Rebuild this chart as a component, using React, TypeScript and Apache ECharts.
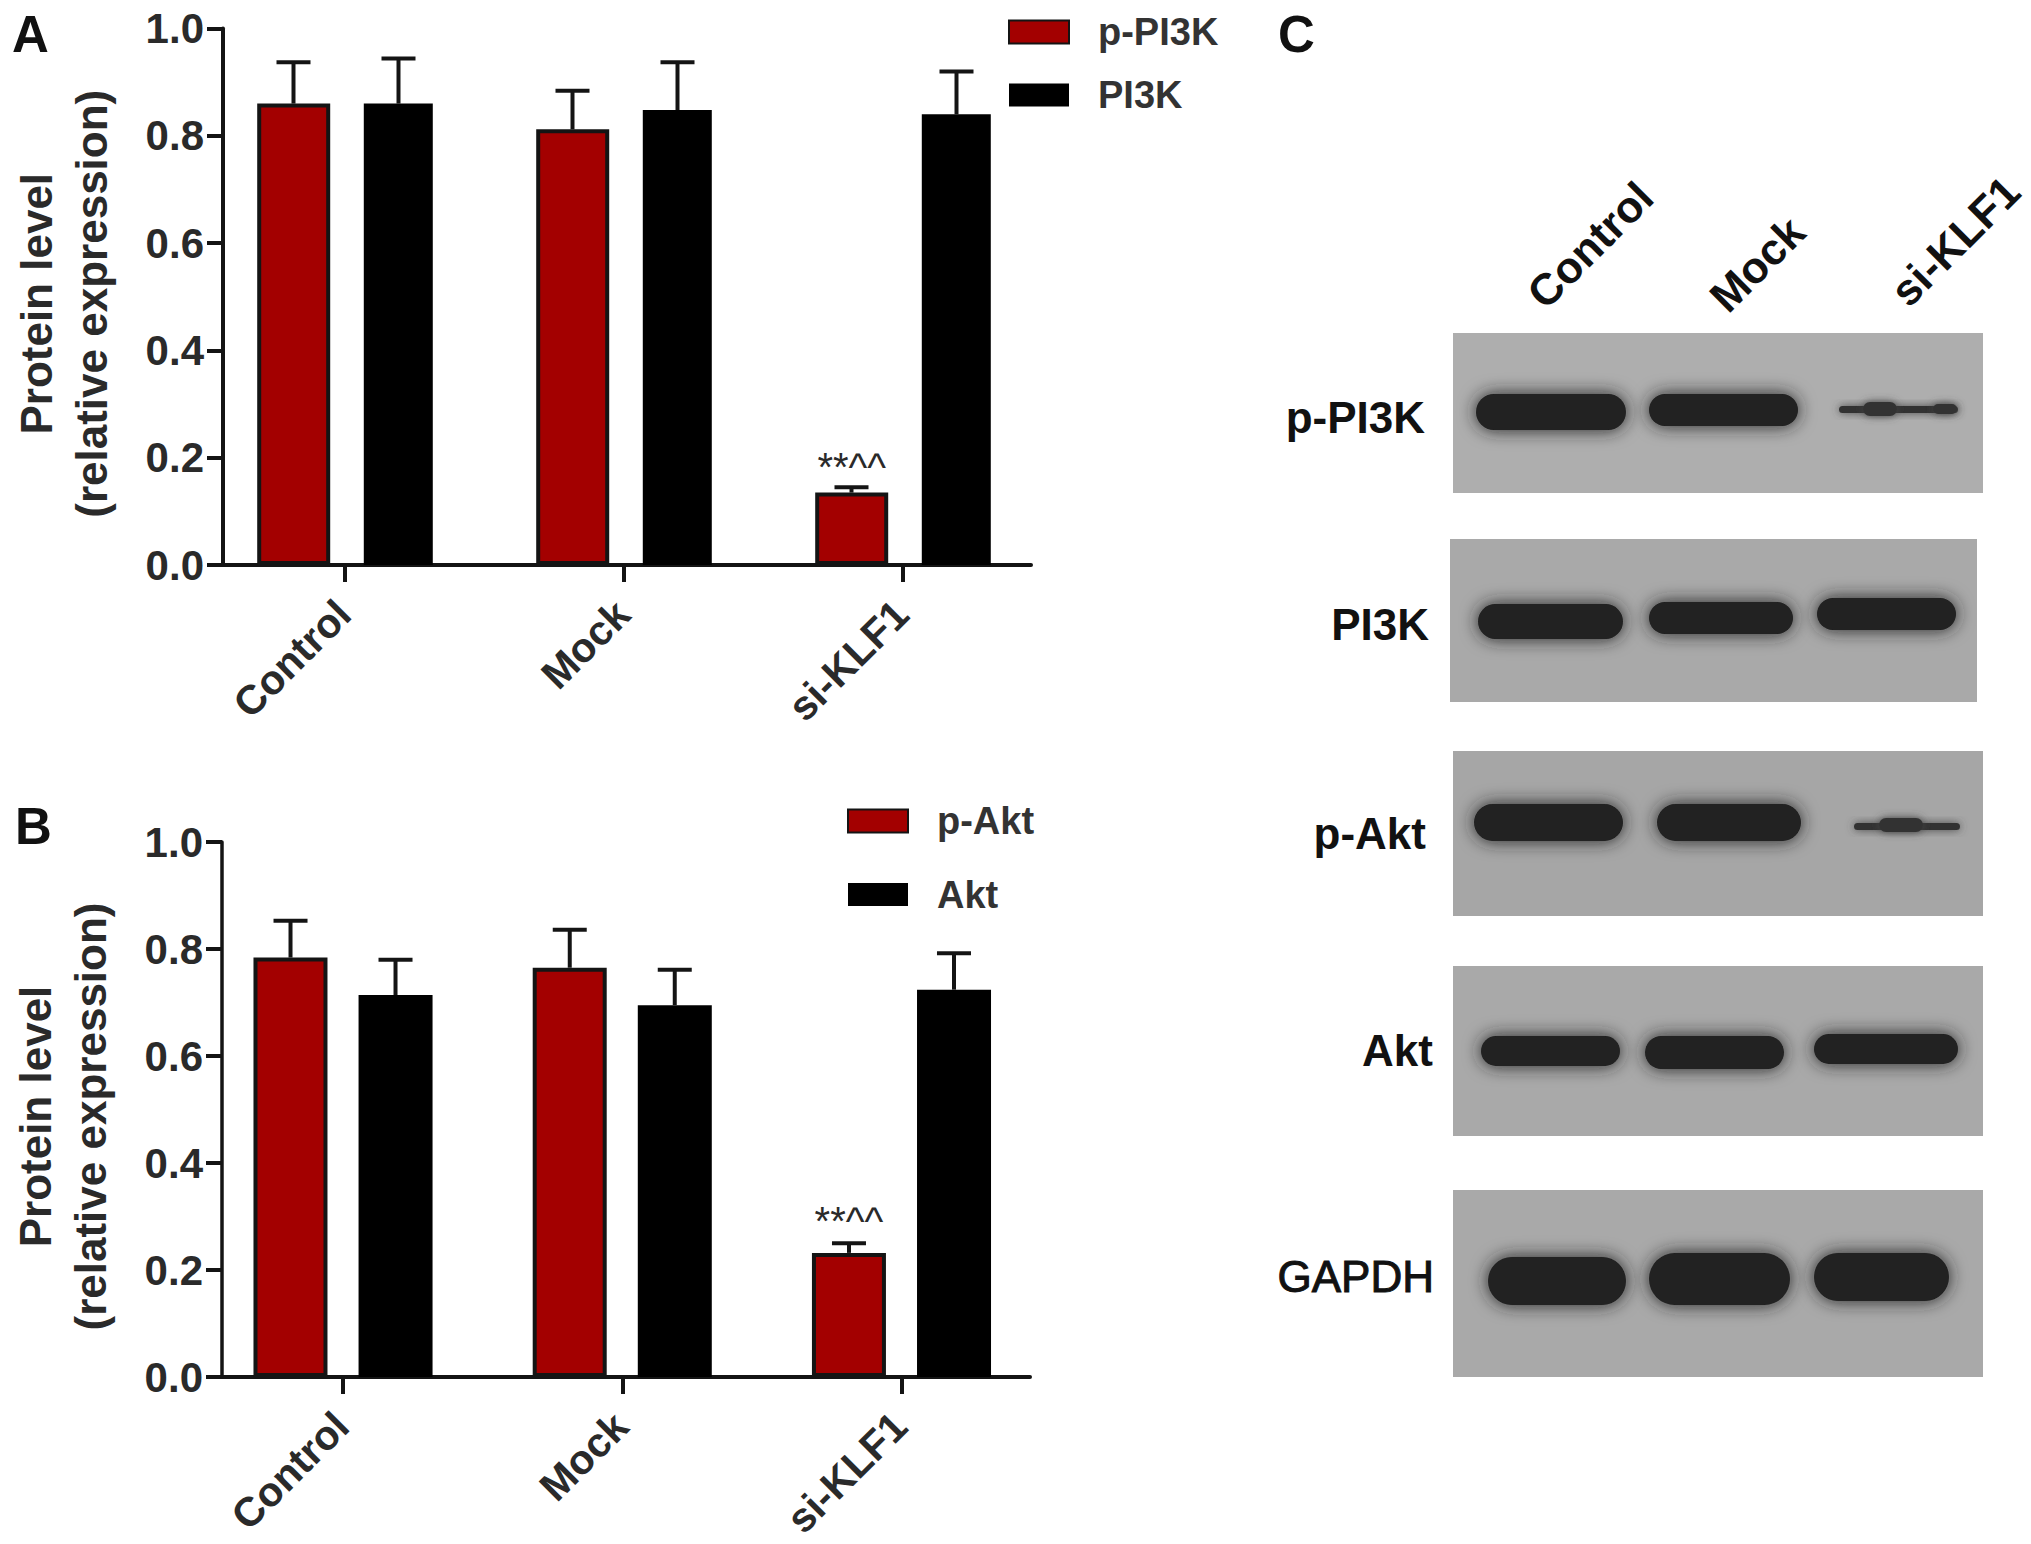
import React, { useEffect, useRef } from "react";
import * as echarts from "echarts";

const categories = ["Control", "Mock", "si-KLF1"];
const yTicksFont = "Liberation Sans";

const pPI3K = [0.86, 0.812, 0.135];
const pPI3KTop = [0.937, 0.884, 0.145];
const PI3K = [0.86, 0.848, 0.84];
const PI3KTop = [0.944, 0.937, 0.92];

const pAkt = [0.784, 0.765, 0.232];
const pAktTop = [0.853, 0.836, 0.25];
const Akt = [0.714, 0.695, 0.724];
const AktTop = [0.78, 0.761, 0.792];

const significance = "**^^";
const yName = "Protein level\n(relative expression)";

const RED = "#a30000";
const INK = "#141414";
const TEXT = "#2a2a2a";

// Panel C: western blot sketch
const blotLanes = ["Control", "Mock", "si-KLF1"];
const blotProteins = ["p-PI3K", "PI3K", "p-Akt", "Akt", "GAPDH"];

const blotLayout = [
  { box: [1453, 333, 530, 160], fill: "#aeaeae", label: [1425, 417], weight: "bold",
    bands: [[1475, 393, 152, 38], [1648, 393, 151, 34], [1838, 405, 121, 9], [1862, 401, 36, 16], [1932, 403, 26, 12]] },
  { box: [1450, 539, 527, 163], fill: "#a9a9a9", label: [1429, 624], weight: "bold",
    bands: [[1477, 603, 147, 37], [1648, 601, 146, 34], [1816, 597, 141, 34]] },
  { box: [1453, 751, 530, 165], fill: "#a6a6a6", label: [1426, 833], weight: "bold",
    bands: [[1473, 803, 151, 39], [1656, 803, 146, 39], [1853, 822, 108, 9], [1878, 817, 46, 16]] },
  { box: [1453, 966, 530, 170], fill: "#a9a9a9", label: [1433, 1050], weight: "bold",
    bands: [[1480, 1035, 141, 32], [1644, 1035, 141, 35], [1813, 1033, 146, 32]] },
  { box: [1453, 1190, 530, 187], fill: "#a9a9a9", label: [1434, 1276], weight: "normal",
    bands: [[1487, 1256, 140, 50], [1648, 1252, 143, 54], [1813, 1252, 137, 50]] },
];
const laneLabelPos = [[1590, 245], [1757, 264], [1955, 241]];
const panelLetters = [["A", 12, 34], ["B", 15, 826], ["C", 1278, 34]];

function blotGraphics(): any[] {
  const out: any[] = [];
  blotLayout.forEach((p, i) => {
    const [x, y, w, h] = p.box;
    out.push({ type: "rect", shape: { x, y, width: w, height: h }, style: { fill: p.fill } });
    p.bands.forEach(([bx, by, bw, bh]) => {
      const thin = bh < 20;
      const inset = 1;
      out.push({
        type: "rect",
        shape: { x: bx + inset, y: by + inset, width: bw - 2 * inset, height: bh - 2 * inset, r: (bh - 2 * inset) / 2 },
        style: { fill: thin ? "#333" : "#202020", shadowBlur: thin ? 8 : 18, shadowColor: thin ? "#444" : "#202020" },
      });
    });
    out.push({
      type: "text", x: p.label[0], y: p.label[1],
      style: {
        text: blotProteins[i], align: "right", verticalAlign: "middle", fill: "#111",
        font: `${p.weight} 44px "Liberation Sans"`,
        stroke: p.weight === "normal" ? "#111" : undefined, lineWidth: p.weight === "normal" ? 1 : 0,
      },
    });
  });
  blotLanes.forEach((t, i) => {
    out.push({
      type: "text", x: laneLabelPos[i][0], y: laneLabelPos[i][1], rotation: Math.PI / 4,
      style: { text: t, align: "center", verticalAlign: "middle", fill: "#111", font: `bold 44px "Liberation Sans"` },
    });
  });
  panelLetters.forEach(([t, x, y]) => {
    out.push({
      type: "text", x, y,
      style: { text: t, align: "left", verticalAlign: "middle", fill: "#111", font: `bold 51px "Liberation Sans"` },
    });
  });
  return out;
}

type Panel = {
  top: number; bottom: number; axisX: number; axisEnd: number; bandLeft: number; bandWidth: number;
  names: [string, string]; red: number[]; redTop: number[]; black: number[]; blackTop: number[];
  redW: number; blackW: number; gap: string; redOffset: number; blackOffset: number;
  legendLeft: number; legendTop: number; legendGap: number; sigDistance: number;
};

const panels: Panel[] = [
  { top: 28.5, bottom: 565, axisX: 223, axisEnd: 1031, bandLeft: 205.5, bandWidth: 837,
    names: ["p-PI3K", "PI3K"], red: pPI3K, redTop: pPI3KTop, black: PI3K, blackTop: PI3KTop,
    redW: 73, blackW: 69, gap: "46%", redOffset: -51.5, blackOffset: 53.5,
    legendLeft: 1008, legendTop: 13, legendGap: 25, sigDistance: 6 },
  { top: 842, bottom: 1377, axisX: 222, axisEnd: 1030, bandLeft: 203.4, bandWidth: 837.7,
    names: ["p-Akt", "Akt"], red: pAkt, redTop: pAktTop, black: Akt, blackTop: AktTop,
    redW: 74, blackW: 74, gap: "42%", redOffset: -52.5, blackOffset: 52.5,
    legendLeft: 847, legendTop: 802, legendGap: 35.5, sigDistance: 12 },
];

function errorSeries(name: string, tops: number[], vals: number[], offset: number, grid: number) {
  return {
    type: "custom", name, xAxisIndex: grid, yAxisIndex: grid, silent: true, z: 3,
    encode: { x: 0, y: [1, 2] },
    data: tops.map((t, i) => [i, vals[i], t]),
    renderItem: (_p: any, api: any) => {
      const a = api.coord([api.value(0), api.value(1)]);
      const b = api.coord([api.value(0), api.value(2)]);
      const x = a[0] + offset;
      const style = { stroke: INK, lineWidth: 4, fill: "none" };
      return {
        type: "group",
        children: [
          { type: "line", shape: { x1: x, y1: a[1], x2: x, y2: b[1] }, style },
          { type: "line", shape: { x1: x - 17, y1: b[1], x2: x + 17, y2: b[1] }, style },
        ],
      };
    },
  };
}

function buildOption() {
  const grid: any[] = [], xAxis: any[] = [], yAxis: any[] = [], series: any[] = [], legend: any[] = [];
  panels.forEach((p, k) => {
    const g = k * 2; // bars grid
    const f = g + 1; // frame grid
    grid.push({ left: p.bandLeft, width: p.bandWidth, top: p.top, height: p.bottom - p.top });
    grid.push({ left: p.axisX, width: p.axisEnd - p.axisX, top: p.top, height: p.bottom - p.top });
    xAxis.push({
      type: "category", gridIndex: g, data: categories,
      axisLine: { show: false },
      axisTick: { show: true, alignWithLabel: true, length: 17, lineStyle: { color: INK, width: 4 } },
      axisLabel: { rotate: 45, margin: 41, interval: 0, fontFamily: yTicksFont, fontWeight: "bold", fontSize: 41, color: TEXT, padding: [0, 2, 0, 0] },
    });
    xAxis.push({
      type: "category", gridIndex: f, data: categories,
      axisLine: { show: true, lineStyle: { color: INK, width: 4 } },
      axisTick: { show: false }, axisLabel: { show: false },
    });
    yAxis.push({ type: "value", gridIndex: g, min: 0, max: 1, show: false, splitLine: { show: false } });
    yAxis.push({
      type: "value", gridIndex: f, min: 0, max: 1, interval: 0.2,
      name: yName, nameLocation: "middle", nameGap: 104,
      nameTextStyle: { fontFamily: yTicksFont, fontWeight: "bold", fontSize: 44, color: TEXT, lineHeight: 55, padding: [0, 14, 0, 0] },
      axisLine: { show: true, lineStyle: { color: INK, width: k === 0 ? 4 : 3.5 } },
      axisTick: { show: true, length: 16, lineStyle: { color: INK, width: 4 } },
      axisLabel: { margin: 19, fontFamily: yTicksFont, fontWeight: "bold", fontSize: 42, color: TEXT, formatter: (v: number) => v.toFixed(1) },
      splitLine: { show: false },
    });
    series.push({
      type: "bar", name: p.names[0], xAxisIndex: g, yAxisIndex: g, barWidth: p.redW, barGap: p.gap,
      itemStyle: { color: RED, borderColor: INK, borderWidth: 4 },
      data: p.red.map((v, i) =>
        i === 2
          ? { value: v, label: { show: true, position: "top", distance: p.sigDistance, formatter: significance, fontFamily: yTicksFont, fontSize: 40, color: TEXT } }
          : v),
    });
    series.push({
      type: "bar", name: p.names[1], xAxisIndex: g, yAxisIndex: g, barWidth: p.blackW, barGap: p.gap,
      itemStyle: { color: "#000", borderColor: "#000", borderWidth: 0 },
      data: p.black,
    });
    series.push(errorSeries(p.names[0] + " SD", p.redTop, p.red, p.redOffset, g));
    series.push(errorSeries(p.names[1] + " SD", p.blackTop, p.black, p.blackOffset, g));
    legend.push({
      data: p.names, orient: "vertical", left: p.legendLeft, top: p.legendTop, padding: 0,
      itemWidth: 60, itemHeight: 23, itemGap: p.legendGap, icon: "rect", selectedMode: false,
      textStyle: { fontFamily: yTicksFont, fontWeight: "bold", fontSize: 38, color: "#333", padding: [0, 0, 0, 24] },
    });
  });
  return { animation: false, backgroundColor: "#fff", grid, xAxis, yAxis, series, legend, graphic: blotGraphics() };
}

export default function App() {
  const ref = useRef<HTMLDivElement>(null);
  useEffect(() => {
    document.body.style.margin = "0";
    const chart = echarts.init(ref.current!, undefined, { renderer: "svg" });
    chart.setOption(buildOption() as any);
    return () => chart.dispose();
  }, []);
  return <div ref={ref} style={{ width: 2031, height: 1544 }} />;
}
